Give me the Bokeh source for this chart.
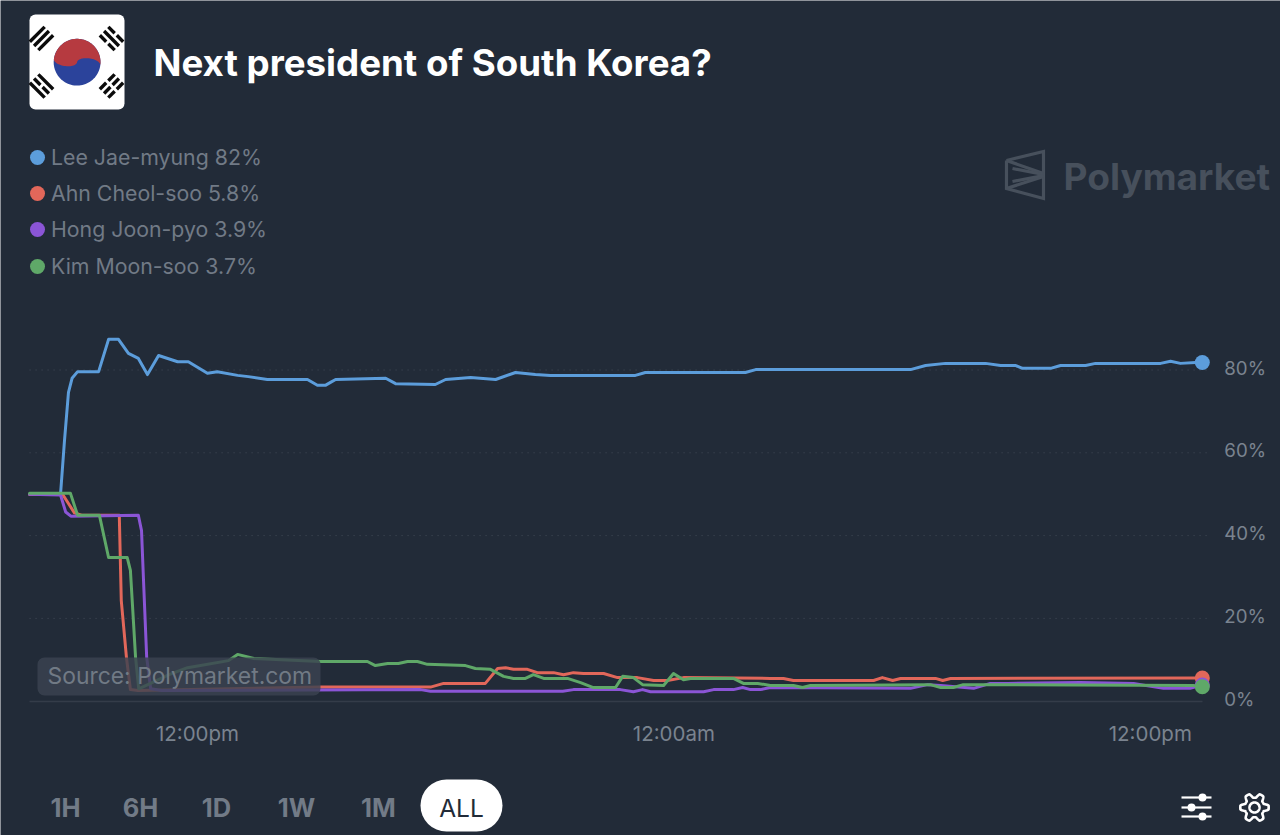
import numpy as np
from bokeh.embed import file_html
from bokeh.resources import INLINE
from bokeh.plotting import figure
from bokeh.models import Label, BoxAnnotation, FixedTicker, LinearAxis, Range1d

TITLE = "Next president of South Korea?"
SOURCE = "Source: Polymarket.com"
BRAND = "Polymarket"
NAMES = ["Lee Jae-myung", "Ahn Cheol-soo", "Hong Joon-pyo", "Kim Moon-soo"]
CURRENT = ["82%", "5.8%", "3.9%", "3.7%"]
COLORS = ["#5c9ddb", "#e2675a", "#8b55d6", "#5fa868"]
Y_TICKS = [0, 20, 40, 60, 80]
Y_LABELS = ["0%", "20%", "40%", "60%", "80%"]
X_TICKS = [0, 12, 24]
X_LABELS = ["12:00pm", "12:00am", "12:00pm"]
RANGES = ["1H", "6H", "1D", "1W", "1M"]
ACTIVE_RANGE = "ALL"

# hours relative to the first 12:00pm tick, and percentages
lee_t = [-4.23, -3.45, -3.35, -3.25, -3.16, -3.02, -2.49, -2.24, -1.99, -1.74, -1.49, -1.26, -0.98, -0.5, -0.23, 0.25, 0.5,
         1.01, 1.28, 1.76, 2.77, 3.02, 3.22, 3.35, 3.48, 4.74, 4.99, 5.99, 6.25, 6.88, 7.51, 8.01, 8.51, 8.89, 11.03,
         11.28, 13.8, 14.06, 17.96, 18.34, 18.84, 19.85, 20.23, 20.6, 20.78, 21.49, 21.74, 22.37, 22.62, 24.26, 24.51,
         24.76, 25.14, 25.31]
lee_v = [50.0, 50.0, 63.0, 74.6, 78.0, 79.6, 79.6, 87.4, 87.4, 84.0, 82.8, 78.9, 83.5, 82.0, 82.0, 79.2, 79.6,
         78.7, 78.4, 77.7, 77.7, 76.3, 76.3, 77.0, 77.7, 78.0, 76.7, 76.5, 77.7, 78.2, 77.7, 79.4, 78.9, 78.7, 78.7,
         79.4, 79.4, 80.1, 80.1, 81.1, 81.6, 81.6, 81.1, 81.1, 80.4, 80.4, 81.1, 81.1, 81.6, 81.6, 82.1,
         81.6, 81.8, 81.8]

ahn_t = [-4.23, -3.4, -3.1, -2.9, -1.97, -1.92, -1.79, -1.69, -1.5, 3.1, 5.87, 6.2, 7.25, 7.56, 7.76, 7.96, 8.31, 8.56,
         8.97, 9.22, 9.47, 9.72, 10.23, 10.58, 11.08, 11.49, 11.84, 12.24, 14.43, 14.76, 15.01, 17.03, 17.25, 17.51,
         17.71, 18.59, 18.77, 18.97, 25.31]
ahn_v = [50.0, 50.0, 45.5, 44.9, 44.9, 24.3, 10.6, 2.8, 2.6, 3.4, 3.4, 4.3, 4.3, 7.9, 8.1, 7.7, 7.7, 6.9,
         6.9, 6.4, 6.9, 6.7, 6.7, 5.7, 5.7, 5.0, 5.0, 5.7, 5.5, 5.5, 5.0, 5.0, 5.7, 5.0,
         5.5, 5.5, 5.0, 5.5, 5.6]

hong_t = [-4.23, -3.45, -3.32, -3.19, -1.49, -1.41, -1.36, -1.28, -1.18, -0.9, 5.62, 5.87, 9.2, 9.47, 10.65, 10.98, 11.21,
          11.41, 12.75, 13.0, 13.5, 13.73, 13.93, 14.18, 14.43, 17.96, 18.39, 18.72, 19.55, 19.97, 20.4, 22.24, 23.58,
          24.33, 25.0, 25.31]
hong_v = [50.0, 49.8, 45.7, 44.7, 44.9, 41.2, 29.2, 10.6, 3.0, 2.6, 2.8, 2.4, 2.4, 2.8, 2.8, 2.3, 2.8,
          2.3, 2.3, 2.8, 2.8, 3.3, 2.8, 2.8, 3.3, 3.1, 4.0, 3.8, 3.1, 4.3, 4.3, 4.5, 4.3,
          3.1, 3.1, 3.9]

kim_t = [-4.23, -3.2, -3.02, -2.47, -2.24, -1.77, -1.69, -1.56, -1.48, -0.7, -0.25, 0.78, 1.01, 1.42, 3.1, 4.28, 4.48,
         4.79, 5.06, 5.29, 5.54, 5.79, 6.75, 7.0, 7.38, 7.71, 7.96, 8.26, 8.46, 8.72, 9.32, 9.65, 9.97, 10.53, 10.71,
         10.98, 11.21, 11.74, 11.99, 12.24, 12.42, 13.5, 13.75, 14.11, 14.43, 15.01, 15.24, 15.44, 18.46, 18.72, 19.04,
         19.29, 25.09, 25.31]
kim_v = [50.2, 50.2, 44.9, 44.9, 34.7, 34.7, 31.6, 10.6, 3.0, 6.5, 8.1, 9.8, 11.3, 10.3, 9.6, 9.6, 8.6,
         9.1, 9.1, 9.6, 9.6, 8.9, 8.6, 7.9, 7.7, 6.0, 5.5, 5.5, 6.4, 5.5, 5.5, 4.5, 3.3, 3.3, 6.0,
         5.7, 4.0, 3.8, 6.7, 5.2, 5.5, 5.5, 4.3, 4.3, 3.8, 3.8, 3.3, 3.8, 4.0, 3.3, 3.3,
         4.0, 3.8, 3.5]

SERIES_T = [lee_t, ahn_t, hong_t, kim_t]
SERIES_V = [lee_v, ahn_v, hong_v, kim_v]

# ---- calibration: page pixels of the reference <-> data
BG = "#222b38"
MUTED = "#717a86"
AXIS_TXT = "#7a838f"
PX_PER_H = 39.7
PX_PER_PCT = 4.14


def X(px):
    return (np.asarray(px, dtype=float) - 197.0) / PX_PER_H


def Y(py):
    return (700.7 - np.asarray(py, dtype=float)) / PX_PER_PCT


p = figure(width=1280, height=835, output_backend="svg", toolbar_location=None,
           x_range=Range1d(float(X(0)), float(X(1280))), y_range=Range1d(float(Y(835)), float(Y(0))),
           x_axis_location=None, y_axis_location=None,
           min_border=0, min_border_left=0, min_border_right=0, min_border_top=0, min_border_bottom=0,
           background_fill_color=BG, border_fill_color=BG, outline_line_color=None)
p.grid.visible = False

t_end = lee_t[-1]
t_start = lee_t[0]

# grid
p.segment(x0=[t_start] * 4, x1=[t_end + 0.15] * 4, y0=Y_TICKS[1:], y1=Y_TICKS[1:],
          line_color="#434b58", line_width=1, line_dash="1 5")

# axes
xa = LinearAxis(fixed_location=0, ticker=FixedTicker(ticks=X_TICKS),
                major_label_overrides=dict(zip(X_TICKS, X_LABELS)),
                axis_line_color="#343c49", axis_line_width=1.5, major_tick_line_color=None, minor_tick_line_color=None,
                major_label_text_color=AXIS_TXT, major_label_text_font="Inter", major_label_text_font_size="20.5px",
                major_label_standoff=14, bounds=(t_start, t_end))
p.add_layout(xa, "below")
# the reference's tick labels sit about 2px above their gridlines
p.extra_y_ranges["tick_labels"] = Range1d(float(Y(835)) - 0.45, float(Y(0)) - 0.45)
ya = LinearAxis(fixed_location=t_end, ticker=FixedTicker(ticks=Y_TICKS), y_range_name="tick_labels",
                major_label_overrides=dict(zip(Y_TICKS, Y_LABELS)),
                axis_line_color=None, major_tick_line_color=None, minor_tick_line_color=None,
                major_label_text_color=AXIS_TXT, major_label_text_font="Inter", major_label_text_font_size="18.7px",
                major_label_standoff=16)
p.add_layout(ya, "right")

# series
for t, v, c in zip(SERIES_T, SERIES_V, COLORS):
    p.line(t, v, line_color=c, line_width=3, line_join="round", line_cap="round")
for t, v, c in zip(SERIES_T, SERIES_V, COLORS):
    p.scatter([t[-1]], [v[-1]], size=15, fill_color=c, line_color=None)

# source badge
p.add_layout(BoxAnnotation(left=float(X(37)), right=float(X(320)), top=float(Y(657)), bottom=float(Y(695)),
                           fill_color="#3b4350", fill_alpha=0.82, line_color=None, border_radius=7))
p.add_layout(Label(x=float(X(47)), y=float(Y(675)), text=SOURCE, text_color="#717a85", text_font="Inter",
                   text_font_size="22.9px", text_baseline="middle"))

# flag
p.add_layout(BoxAnnotation(left=float(X(29)), right=float(X(124)), top=float(Y(14)), bottom=float(Y(109)),
                           fill_color="#ffffff", fill_alpha=1, line_color=None, border_radius=6, level="underlay"))
cx, cy, r = 76.6, 61.7, 23.4
tilt = np.radians(8)
a = np.linspace(0, 2 * np.pi, 90)
p.patch(X(cx + r * np.cos(a)), Y(cy + r * np.sin(a)), fill_color="#2b439b", line_color=None)
top = np.linspace(np.pi, 2 * np.pi, 50)
lobe = np.linspace(0, np.pi, 30)
amp = 5.5
ux = np.r_[r * np.cos(top), r / 2 + r / 2 * np.cos(lobe), -r / 2 + r / 2 * np.cos(lobe)]
uy = np.r_[r * np.sin(top), -amp * np.sin(lobe), amp * np.sin(lobe)]
rx = ux * np.cos(tilt) - uy * np.sin(tilt)
ry = ux * np.sin(tilt) + uy * np.cos(tilt)
p.patch(X(cx + rx), Y(cy + ry), fill_color="#b63a40", line_color=None)


def trigram(gx, gy, angle, pattern):
    """pattern: three booleans, True = solid bar"""
    dx, dy = np.cos(angle), np.sin(angle)
    nx, ny = -dy, dx
    L = 10.5
    for i, solid in enumerate(pattern):
        ox, oy = gx + nx * (i - 1) * 6, gy + ny * (i - 1) * 6
        spans = [(-L, L)] if solid else [(-L, -1.5), (1.5, L)]
        for s0, s1_ in spans:
            p.line(X([ox + dx * s0, ox + dx * s1_]), Y([oy + dy * s0, oy + dy * s1_]),
                   line_color="#0b0b0b", line_width=3.4)


trigram(41, 38, -np.pi / 4, [True, True, True])
trigram(111, 38, np.pi / 4, [False, True, False])
trigram(41, 85.5, np.pi / 4, [True, False, True])
trigram(111, 85.5, -np.pi / 4, [False, False, False])

# title
p.add_layout(Label(x=float(X(153)), y=float(Y(62)), text=TITLE, text_color="#ffffff", text_font="Inter",
                   text_font_style="bold", text_font_size="36.7px", text_baseline="middle"))

# legend
for py, name, cur, c in zip([157, 193, 229, 266], NAMES, CURRENT, COLORS):
    p.scatter([float(X(37))], [float(Y(py))], size=15, fill_color=c, line_color=None)
    p.add_layout(Label(x=float(X(50.5)), y=float(Y(py - 1)), text=f"{name} {cur}", text_color=MUTED, text_font="Inter",
                       text_font_size="21.3px", text_baseline="middle"))

# watermark
LOGO = "#47505c"
for xs, ys in [([1006, 1043, 1043, 1006, 1006], [160, 151, 198, 188, 160]),
               ([1006, 1043], [160, 173]), ([1006, 1043], [188, 176]),
               ([1043, 1012], [174, 168]), ([1043, 1012], [175, 181])]:
    p.line(X(xs), Y(ys), line_color=LOGO, line_width=3.2, line_join="miter")
p.add_layout(Label(x=float(X(1063)), y=float(Y(176)), text=BRAND, text_color=LOGO, text_font="Inter",
                   text_font_style="bold", text_font_size="37.1px", text_baseline="middle"))

# range buttons
for px, txt in zip([65, 140, 216, 296, 378], RANGES):
    p.add_layout(Label(x=float(X(px)), y=float(Y(807)), text=txt, text_color="#727b87", text_font="Inter",
                       text_font_style="bold", text_font_size="25.5px", text_align="center", text_baseline="middle"))
p.add_layout(BoxAnnotation(left=float(X(420)), right=float(X(502)), top=float(Y(779)), bottom=float(Y(831)),
                           fill_color="#ffffff", fill_alpha=1, line_color=None, border_radius=26))
p.add_layout(Label(x=float(X(461)), y=float(Y(807)), text=ACTIVE_RANGE, text_color=BG, text_font="Inter",
                   text_font_size="24.5px", text_align="center", text_baseline="middle"))

# controls
for py, kx in [(797, 1202), (807, 1191), (816, 1202)]:
    p.line(X([1181, 1211]), Y([py, py]), line_color="#ffffff", line_width=2.2)
    p.scatter([float(X(kx))], [float(Y(py))], size=8, fill_color="#ffffff", line_color=None)
th = np.linspace(0, 2 * np.pi, 145)
rad = 12.0 + 2.2 * np.clip(1.6 * np.cos(6 * th), -1, 1)
p.line(X(1254 + rad * np.cos(th)), Y(807 + rad * np.sin(th)), line_color="#ffffff", line_width=2.6, line_join="round")
p.line(X(1254 + 5 * np.cos(th)), Y(807 + 5 * np.sin(th)), line_color="#ffffff", line_width=2.6)

open("out.html", "w").write(file_html(p, INLINE))
